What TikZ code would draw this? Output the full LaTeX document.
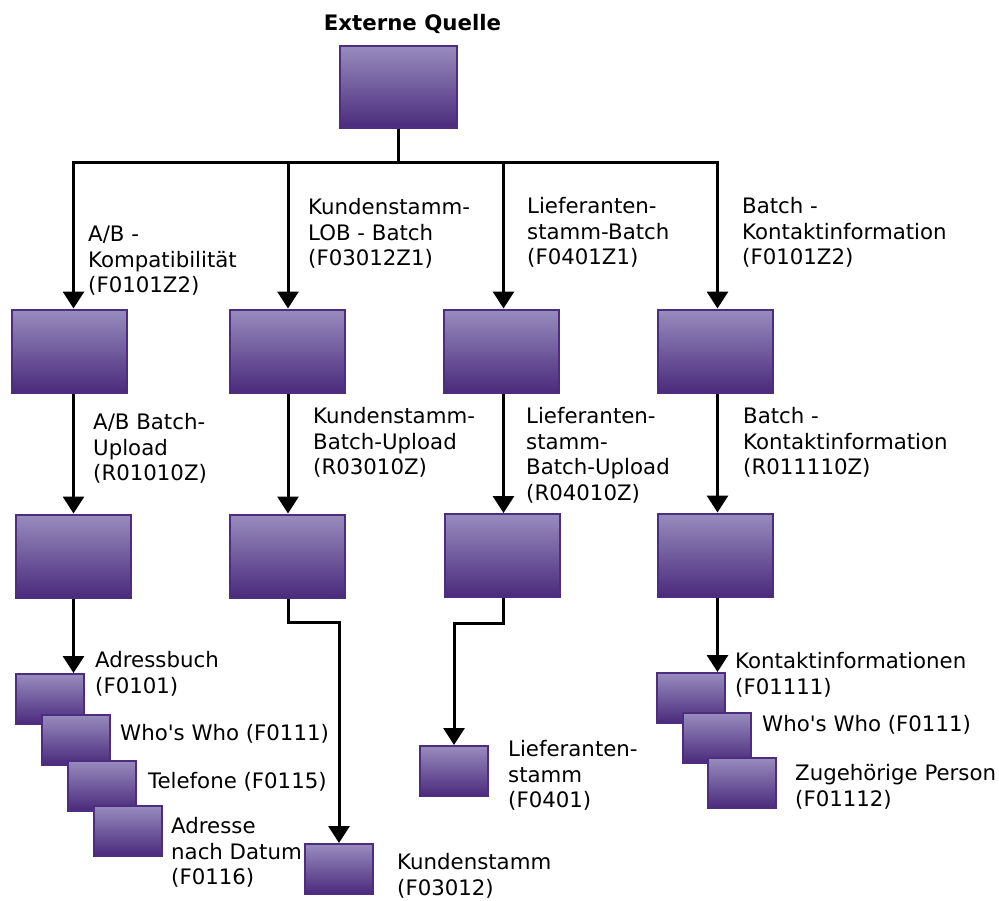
\documentclass[tikz,border=0pt]{standalone}
\usepackage{fontspec}
\setmainfont{DejaVu Sans}
\usetikzlibrary{arrows.meta}
\definecolor{boxtop}{RGB}{152,140,190}
\definecolor{boxbot}{RGB}{74,42,124}
\definecolor{boxline}{RGB}{78,44,128}
\tikzset{
  box/.style={draw=boxline, line width=2pt, top color=boxtop, bottom color=boxbot, inner sep=0pt},
  bigbox/.style={box, minimum width=115pt, minimum height=83pt},
  smallbox/.style={box, minimum width=68pt, minimum height=50pt},
  lbl/.style={anchor=north west, inner sep=0pt, align=left, font=\fontsize{21.3pt}{25.8pt}\selectfont},
  ln/.style={line width=3pt, line join=miter},
  arr/.style={ln, -{Triangle[width=21pt,length=17pt]}}
}
\begin{document}
\begin{tikzpicture}[x=1pt, y=-1pt]
\useasboundingbox (0,0) rectangle (999,900);
% title
\node[anchor=base, inner sep=0pt, font=\fontsize{21.3pt}{25.8pt}\selectfont\bfseries] (title) at (412.5,30) {Externe Quelle};
% boxes
\node[box, minimum width=117pt, minimum height=82pt] (T) at (398,87) {};
\node[bigbox] (R1a) at (69.5,351) {};
\node[bigbox] (R1b) at (287,351) {};
\node[bigbox] (R1c) at (501.5,351) {};
\node[bigbox] (R1d) at (715,351) {};
\node[bigbox] (R2a) at (73.5,556) {};
\node[bigbox] (R2b) at (287.5,556) {};
\node[bigbox] (R2c) at (502.5,555.5) {};
\node[bigbox] (R2d) at (715,555) {};
\node[smallbox] (A) at (50,699) {};
\node[smallbox] (B) at (76,739.5) {};
\node[smallbox] (C) at (102,785.5) {};
\node[smallbox] (D) at (128,830.5) {};
\node[smallbox] (K) at (339,869) {};
\node[smallbox] (L) at (454,771) {};
\node[smallbox] (E) at (690.5,698) {};
\node[smallbox] (F) at (716.5,738) {};
\node[smallbox] (G) at (742,783) {};
% column lines
\coordinate (bar) at (398,162);
\coordinate (x1) at (73.5,0);
\coordinate (x2) at (288,0);
\coordinate (x3) at (503.5,0);
\coordinate (x4) at (717.5,0);
% connectors
\draw[ln] (T.south) -- (T.south |- bar);
\draw[arr] (T.south |- bar) -| (x1 |- R1a.north);
\draw[arr] (T.south |- bar) -| (x4 |- R1d.north);
\draw[arr] (x2 |- bar) -- (x2 |- R1b.north);
\draw[arr] (x3 |- bar) -- (x3 |- R1c.north);
\draw[arr] (x1 |- R1a.south) -- (x1 |- R2a.north);
\draw[arr] (x2 |- R1b.south) -- (x2 |- R2b.north);
\draw[arr] (x3 |- R1c.south) -- (x3 |- R2c.north);
\draw[arr] (x4 |- R1d.south) -- (x4 |- R2d.north);
\draw[arr] (x1 |- R2a.south) -- (x1 |- A.north);
\draw[arr] (x2 |- R2b.south) -- ++(0,24) -| (K.north);
\draw[arr] (x3 |- R2c.south) -- ++(0,25) -| (L.north);
\draw[arr] (x4 |- R2d.south) -- (x4 |- E.north);
% labels
\node[lbl] (l1a) at (88,223) {\strut A/B -\\Kompatibilität\\(F0101Z2)};
\node[lbl] (l1b) at (308,196) {\strut Kundenstamm-\\LOB - Batch\\(F03012Z1)};
\node[lbl] (l1c) at (527,195) {\strut Lieferanten-\\stamm-Batch\\(F0401Z1)};
\node[lbl] (l1d) at (742,195) {\strut Batch -\\Kontaktinformation\\(F0101Z2)};
\node[lbl] (l2a) at (93,411) {\strut A/B Batch-\\Upload\\(R01010Z)};
\node[lbl] (l2b) at (313,405) {\strut Kundenstamm-\\Batch-Upload\\(R03010Z)};
\node[lbl] (l2c) at (526,405) {\strut Lieferanten-\\stamm-\\Batch-Upload\\(R04010Z)};
\node[lbl] (l2d) at (743,405) {\strut Batch -\\Kontaktinformation\\(R011110Z)};
\node[lbl] (lA) at (95,649) {\strut Adressbuch\\(F0101)};
\node[lbl] (lB) at (120,722) {\strut Who\textquotesingle s Who (F0111)};
\node[lbl] (lC) at (148,770) {\strut Telefone (F0115)};
\node[lbl] (lD) at (171,815) {\strut Adresse\\nach Datum\\(F0116)};
\node[lbl] (lK) at (397,851) {\strut Kundenstamm\\(F03012)};
\node[lbl] (lL) at (508,738) {\strut Lieferanten-\\stamm\\(F0401)};
\node[lbl] (lE) at (735,650) {\strut Kontaktinformationen\\(F01111)};
\node[lbl] (lF) at (762,713) {\strut Who\textquotesingle s Who (F0111)};
\node[lbl] (lG) at (795,762) {\strut Zugehörige Person\\(F01112)};
\end{tikzpicture}
\end{document}
